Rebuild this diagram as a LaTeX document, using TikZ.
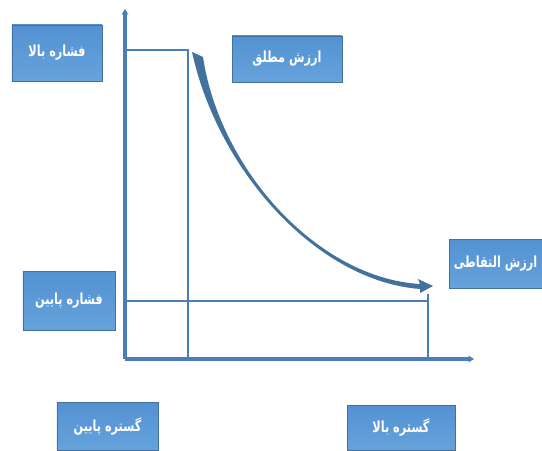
\documentclass[tikz,border=0pt]{standalone}
\usepackage{fontspec}
\usetikzlibrary{arrows.meta}
\newfontfamily\arabicfont[Script=Arabic, FakeStretch=0.74]{DejaVu Sans}
\TeXXeTstate=1
\definecolor{boxtop}{HTML}{5391D2}
\definecolor{boxbot}{HTML}{66A3DB}
\definecolor{boxedge}{HTML}{41719C}
\definecolor{lineblue}{HTML}{4A7EBB}
\definecolor{curveblue}{HTML}{41719C}
\begin{document}
\begin{tikzpicture}[
        x=0.03cm, y=-0.03cm,
        >={Stealth[length=5pt,width=6pt]},
        tag/.style={draw=boxedge, line width=0.6pt, top color=boxtop, bottom color=boxbot,
                    inner sep=0pt, text=white,
                    font=\arabicfont\bfseries\fontsize{13}{14}\selectfont},
        axis/.style={draw=lineblue, line width=2.8pt},
        guide/.style={draw=lineblue, line width=2.1pt}
      ]
        \useasboundingbox (0,0) rectangle (542,450);

        % labels
        \node[tag, minimum width=2.7cm, minimum height=1.68cm] (highp) at (57,53)
          {\beginR فشاره بالا\endR};
        \node[tag, minimum width=3.3cm, minimum height=1.38cm] (absval) at (287,59)
          {\beginR ارزش مطلق\endR};
        \node[tag, minimum width=2.76cm, minimum height=1.77cm] (lowp) at (69,300.5)
          {\beginR فشاره پایین\endR};
        \node[tag, minimum width=2.79cm, minimum height=1.47cm] (crossval) at (495.5,263.5)
          {\beginR ارزش التقاطی\endR};
        \node[tag, minimum width=3.03cm, minimum height=1.44cm] (lowr) at (107.5,426)
          {\beginR گستره پایین\endR};
        \node[tag, minimum width=3.24cm, minimum height=1.35cm] (highr) at (401,427.5)
          {\beginR گستره بالا\endR};

        % axes
        \coordinate (O) at (125,359);
        \coordinate (ytop) at (125,9);
        \coordinate (xend) at (474,359);
        \draw[axis, ->] (O) -- (ytop);
        \draw[axis, ->] (O) -- (xend);

        % guide lines
        \coordinate (hiL) at (125,50);
        \coordinate (hiR) at (188,50);
        \coordinate (hiB) at (188,359);
        \coordinate (loL) at (127,301);
        \coordinate (loR) at (428,301);
        \coordinate (loT) at (428,294);
        \coordinate (loB) at (428,359);
        \draw[guide] (hiL) -- (hiR) -- (hiB);
        \draw[guide] (loL) -- (loR);
        \draw[guide] (loT) -- (loB);

        % curved arrow
        \fill[curveblue] (192,52) -- (203,57)
          .. controls (220,170) and (318,278) .. (420,284)
          -- (418,279) -- (433,286) -- (420,293) -- (420,289)
          .. controls (317,281) and (218,171) .. (192,52) -- cycle;
      \end{tikzpicture}
\end{document}
